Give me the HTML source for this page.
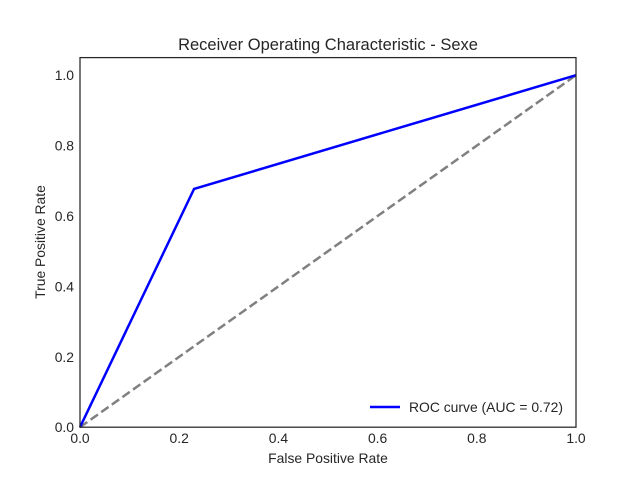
<!DOCTYPE html>
<html><head><meta charset="utf-8"><style>body{margin:0;background:#fff}svg{display:block;font-family:"Liberation Sans",sans-serif}</style></head>
<body>
<svg id="chart" width="640" height="480">
<rect width="640" height="480" fill="#fff"/>
<text x="328" y="50" text-anchor="middle" font-size="16.5" fill="#262626">Receiver Operating Characteristic - Sexe</text>
<g id="ticks"></g>
<g id="marks"></g>
<rect x="80" y="57.6" width="496" height="369.6" fill="none" stroke="#262626" stroke-width="1.25"/>
<text x="328" y="463" text-anchor="middle" font-size="13.9" fill="#262626">False Positive Rate</text>
<text x="0" y="0" transform="translate(45,242) rotate(-90)" text-anchor="middle" font-size="13.9" fill="#262626">True Positive Rate</text>
<g>
<line x1="370" y1="407" x2="400" y2="407" stroke="#0000ff" stroke-width="2.5"/>
<text x="409" y="412" font-size="13.9" fill="#262626">ROC curve (AUC = 0.72)</text>
</g>
</svg>
<script>
const fpr = [0, 0.23, 1];
const tpr = [0, 0.677, 1];
const diagX = [0, 1];
const diagY = [0, 1];
const xTicks = ["0.0","0.2","0.4","0.6","0.8","1.0"];
const yTicks = ["0.0","0.2","0.4","0.6","0.8","1.0"];
const NS = "http://www.w3.org/2000/svg";
const sx = v => 80 + v / 1.0 * 496;
const sy = v => 427.2 - v / 1.05 * 369.6;
const tg = document.getElementById("ticks"), mg = document.getElementById("marks");
function mk(tag, attrs, parent){const e=document.createElementNS(NS,tag);for(const k in attrs)e.setAttribute(k,attrs[k]);parent.appendChild(e);return e;}
xTicks.forEach(t=>{const e=mk("text",{x:sx(+t),y:443,"text-anchor":"middle","font-size":"13.9",fill:"#262626"},tg);e.textContent=t;

});
yTicks.forEach(t=>{const e=mk("text",{x:74,y:sy(+t)+5,"text-anchor":"end","font-size":"13.9",fill:"#262626"},tg);e.textContent=t;

});
const d = mk("polyline",{points:diagX.map((x,i)=>sx(x)+","+sy(diagY[i])).join(" "),fill:"none",stroke:"#808080","stroke-width":"2.5","stroke-dasharray":"9,4"},mg);


const r = mk("polyline",{points:fpr.map((x,i)=>sx(x)+","+sy(tpr[i])).join(" "),fill:"none",stroke:"#0000ff","stroke-width":"2.5"},mg);


</script>
</body></html>
